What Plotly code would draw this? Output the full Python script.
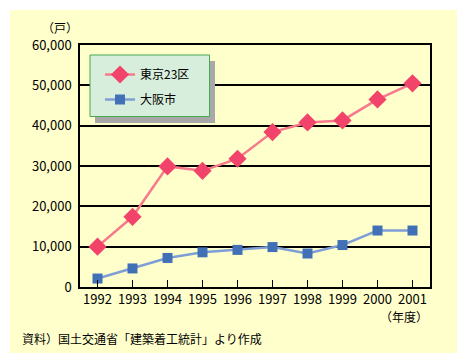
import plotly.graph_objects as go

years = ["1992", "1993", "1994", "1995", "1996", "1997", "1998", "1999", "2000", "2001"]
tokyo = [10000, 17400, 29900, 28800, 31800, 38400, 40800, 41300, 46500, 50500]
osaka = [2100, 4600, 7200, 8600, 9200, 9900, 8300, 10400, 14000, 14000]
y_ticks = [0, 10000, 20000, 30000, 40000, 50000, 60000]

W, H = 468, 363
L, R, T, B = 80, 38, 45, 76
pw, ph = W - L - R, H - T - B

def px(x):
    return (x - L) / pw

def py(y):
    return (H - B - y) / ph

JP = "Noto Sans CJK JP"

fig = go.Figure()
fig.add_trace(go.Scatter(
    x=years, y=tokyo, name="東京23区", mode="lines+markers",
    line=dict(color="#F7798C", width=2.5),
    marker=dict(symbol="diamond", size=14, color="#F2436A"),
    legendgroup="a",
))
fig.add_trace(go.Scatter(
    x=years, y=osaka, name="大阪市", mode="lines+markers",
    line=dict(color="#7F9ED6", width=2.5),
    marker=dict(symbol="square", size=10, color="#4170B6"),
    legendgroup="b",
))

white = dict(fillcolor="white", line=dict(width=0), layer="above", type="rect", xref="paper", yref="paper")
shapes = [
    dict(white, x0=px(0), x1=px(W), y0=py(0), y1=py(10)),
    dict(white, x0=px(0), x1=px(W), y0=py(H), y1=py(353)),
    dict(white, x0=px(0), x1=px(10), y0=py(H), y1=py(0)),
    dict(white, x0=px(457), x1=px(W), y0=py(H), y1=py(0)),
    dict(type="rect", xref="paper", yref="paper", x0=px(95), x1=px(215), y0=py(123), y1=py(61),
         fillcolor="#A8A8A8", line=dict(width=0), layer="above"),
    dict(type="rect", xref="paper", yref="paper", x0=px(90), x1=px(209.5), y0=py(116.5), y1=py(55),
         fillcolor="#D8EEDC", line=dict(color="#44A855", width=1), layer="above"),
]

annotations = [
    dict(text="（戸）", xref="paper", yref="paper", x=px(80), y=py(27), xanchor="right", yanchor="middle",
         showarrow=False, font=dict(family=JP, size=12, color="#000")),
    dict(text="（年度）", xref="paper", yref="paper", x=px(430), y=py(316), xanchor="right", yanchor="middle",
         showarrow=False, font=dict(family=JP, size=12, color="#000")),
    dict(text="資料）国土交通省「建築着工統計」より作成", xref="paper", yref="paper", x=px(20), y=py(338),
         xanchor="left", yanchor="middle", showarrow=False, font=dict(family=JP, size=12, color="#000")),
]

fig.update_layout(
    width=W, height=H,
    margin=dict(l=L, r=R, t=T, b=B),
    paper_bgcolor="#FFFFCC",
    plot_bgcolor="#FFFFCC",
    shapes=shapes,
    annotations=annotations,
    showlegend=True,
    legend=dict(x=px(100), y=py(60), xanchor="left", yanchor="top",
                bgcolor="rgba(0,0,0,0)", borderwidth=0,
                font=dict(family=JP, size=12, color="#000"),
                tracegroupgap=6, itemwidth=30),
    font=dict(family=JP, size=13, color="#000"),
)
fig.update_xaxes(
    type="category", range=[-0.5, 9.5],
    showline=True, linecolor="#000", linewidth=1.5, mirror=True,
    ticks="inside", ticklen=7, tickcolor="#000", tickwidth=1,
    showgrid=False, tickfont=dict(family=JP, size=13, color="#000"),
    fixedrange=True,
)
fig.update_yaxes(
    range=[0, 60000], tickvals=y_ticks, tickformat=",d",
    showline=True, linecolor="#000", linewidth=1.5, mirror=True,
    showgrid=True, gridcolor="#000", gridwidth=1.5, zeroline=False,
    ticks="", ticklabelstandoff=4,
    tickfont=dict(family=JP, size=13, color="#000"),
    fixedrange=True,
)

fig.write_html("out.html", config={"displayModeBar": False},
               post_script="document.body.style.margin='0';")
